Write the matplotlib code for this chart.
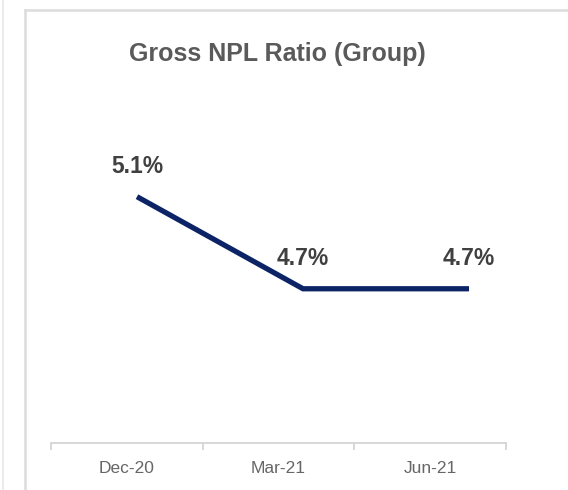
import matplotlib
matplotlib.use("Agg")
import matplotlib.pyplot as plt
from matplotlib.lines import Line2D

# data
periods = ["Dec-20", "Mar-21", "Jun-21"]
npl_ratio = [5.1, 4.7, 4.7]
value_labels = ["5.1%", "4.7%", "4.7%"]

plt.rcParams["font.family"] = ["Liberation Sans", "DejaVu Sans"]

W, H = 568, 490
fig = plt.figure(figsize=(W / 100, H / 100), dpi=100)

def box(x0, y0, x1, y1):
    # pixel box (top-left origin) -> figure fraction rect
    return [x0 / W, 1 - y1 / H, (x1 - x0) / W, (y1 - y0) / H]

# card frame
grey = "#dcdcdc"
fig.add_artist(Line2D([25 / W, 25 / W], [0, 1 - 10 / H], color=grey, lw=1.8))
fig.add_artist(Line2D([25 / W, 1], [1 - 10 / H, 1 - 10 / H], color=grey, lw=1.8))
fig.add_artist(Line2D([3 / W, 3 / W], [0, 1], color="#e8e8e8", lw=1.2))

fig.text(277 / W, 1 - 54 / H, "Gross NPL Ratio (Group)", ha="center", va="center",
         fontsize=18, fontweight="bold", color="#5a5a5a")

# category axis (baseline + ticks + labels)
cax = fig.add_axes(box(51, 300, 506, 443))
cax.set_xlim(0, len(periods))
cax.set_ylim(0, 1)
cax.patch.set_alpha(0)
for s in ["top", "left", "right"]:
    cax.spines[s].set_visible(False)
cax.spines["bottom"].set_color("#d4d4d4")
cax.spines["bottom"].set_linewidth(1.3)
cax.set_yticks([])
cax.set_xticks(range(len(periods) + 1))
cax.set_xticklabels([])
cax.set_xticks([i + 0.5 for i in range(len(periods))], minor=True)
cax.set_xticklabels(periods, minor=True, fontsize=12.5, color="#666666")
cax.tick_params(axis="x", which="major", length=5, color="#d4d4d4", width=1.3)
cax.tick_params(axis="x", which="minor", length=0, pad=13)

# line axis
ax = fig.add_axes(box(54, 100, 552, 443))
ax.set_xlim(-0.5, len(periods) - 0.5)
ax.set_ylim(4.03, 5.52)
ax.axis("off")
x = list(range(len(periods)))
ax.plot(x, npl_ratio, color="#0c2466", lw=3.8, solid_capstyle="butt", solid_joinstyle="miter")
for xi, yi, lab in zip(x, npl_ratio, value_labels):
    ax.annotate(lab, (xi, yi), xytext=(0, 22), textcoords="offset points",
                ha="center", va="center", fontsize=16.5, fontweight="bold", color="#404040")

fig.savefig("out.png", dpi=100)
